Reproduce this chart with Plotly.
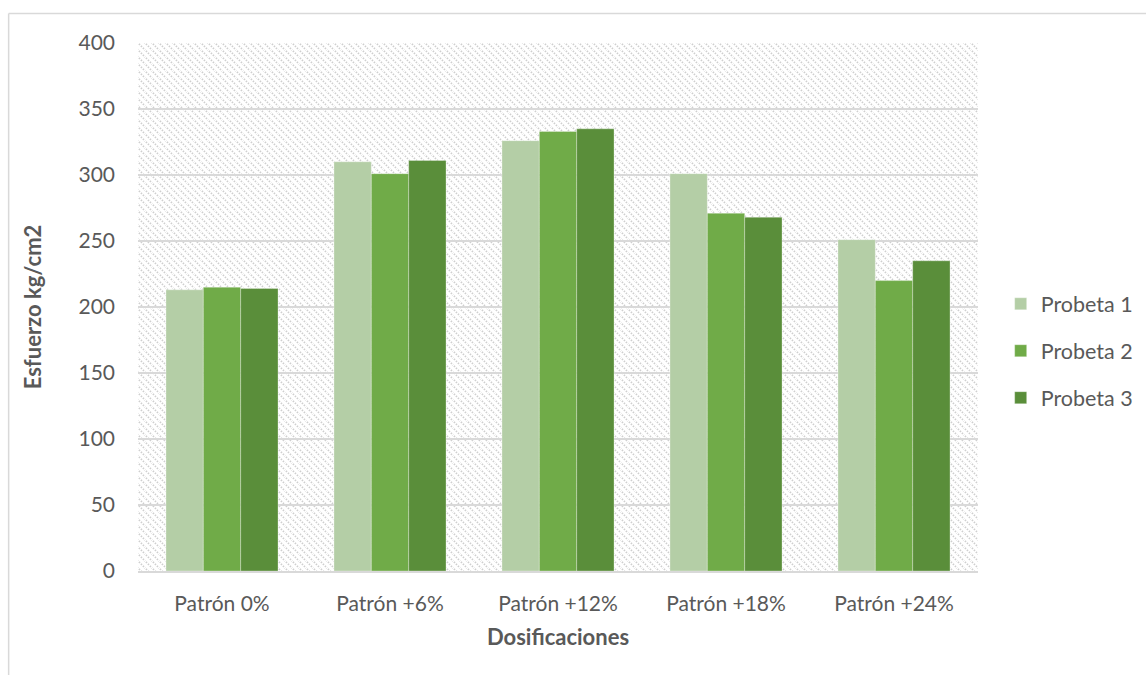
import base64
import plotly.graph_objects as go

# Compressive strength per dosage, three test specimens each
categories = ["Patrón 0%", "Patrón +6%", "Patrón +12%", "Patrón +18%", "Patrón +24%"]
probeta_1 = [213, 310, 326, 301, 251]
probeta_2 = [215, 301, 333, 271, 220]
probeta_3 = [214, 311, 335, 268, 235]
series_names = ["Probeta 1", "Probeta 2", "Probeta 3"]
series_colors = ["#b4cea6", "#70ab48", "#5a8e3a"]
y_ticks = [0, 50, 100, 150, 200, 250, 300, 350, 400]

FONT = "Lato, 'Open Sans', sans-serif"
TEXT = "#595959"
GRID = "#d9d9d9"

# Diagonal hatch used as the plot-area background
hatch_svg = (
    '<svg xmlns="http://www.w3.org/2000/svg" width="840" height="528" '
    'viewBox="0 0 840 528" preserveAspectRatio="none">'
    '<defs><pattern id="h" width="7" height="7" patternUnits="userSpaceOnUse">'
    '<path d="M-1,-1 L8,8 M-1,6 L1,8 M6,-1 L8,1" stroke="#cfcfcf" '
    'stroke-width="1.8" stroke-dasharray="1.4,1.4"/></pattern></defs>'
    '<rect width="840" height="528" fill="url(#h)"/></svg>'
)
hatch_uri = "data:image/svg+xml;base64," + base64.b64encode(hatch_svg.encode()).decode()

fig = go.Figure()
for name, vals, col in zip(series_names, [probeta_1, probeta_2, probeta_3], series_colors):
    fig.add_trace(go.Bar(
        x=categories, y=vals, name=name, legendgroup=name,
        marker=dict(color=col, line=dict(width=0.6, color="rgba(255,255,255,0.5)")),
    ))

fig.update_layout(
    width=1146, height=675,
    margin=dict(l=138, r=168, t=43, b=104, autoexpand=False),
    paper_bgcolor="white",
    plot_bgcolor="rgba(0,0,0,0)",
    barmode="group",
    bargap=0.333,
    bargroupgap=0,
    font=dict(family=FONT, color=TEXT, size=21),
    images=[dict(
        source=hatch_uri, xref="paper", yref="paper", x=0, y=1,
        sizex=1, sizey=1, sizing="stretch", xanchor="left", yanchor="top",
        layer="below",
    )],
    legend=dict(
        x=1.027, y=0.417, xanchor="left", yanchor="middle",
        font=dict(size=21.5, color=TEXT, family=FONT),
        traceorder="grouped", tracegroupgap=16,
        itemwidth=30, bgcolor="rgba(0,0,0,0)",
    ),
    xaxis=dict(
        showgrid=False, showline=True, linecolor=GRID, linewidth=1.5,
        ticks="", tickfont=dict(size=21, color=TEXT), ticklabelstandoff=13,
        title=dict(text="<b>Dosificaciones</b>", font=dict(size=22, color=TEXT), standoff=16),
    ),
    yaxis=dict(
        range=[0, 400], tickvals=y_ticks, showgrid=True, gridcolor=GRID, gridwidth=1.5,
        zeroline=False, showline=False, ticks="",
        tickfont=dict(size=21, color=TEXT), ticklabelstandoff=22,
        title=dict(text="<b>Esfuerzo kg/cm2</b>", font=dict(size=22, color=TEXT), standoff=30),
    ),
    shapes=[
        dict(type="line", xref="paper", yref="paper", x0=-0.154, x1=-0.154, y0=-0.25, y1=1.056,
             line=dict(color=GRID, width=1.5)),
        dict(type="line", xref="paper", yref="paper", x0=-0.154, x1=1.25, y0=1.056, y1=1.056,
             line=dict(color=GRID, width=1.5)),
    ],
)

fig.write_html("out.html")
